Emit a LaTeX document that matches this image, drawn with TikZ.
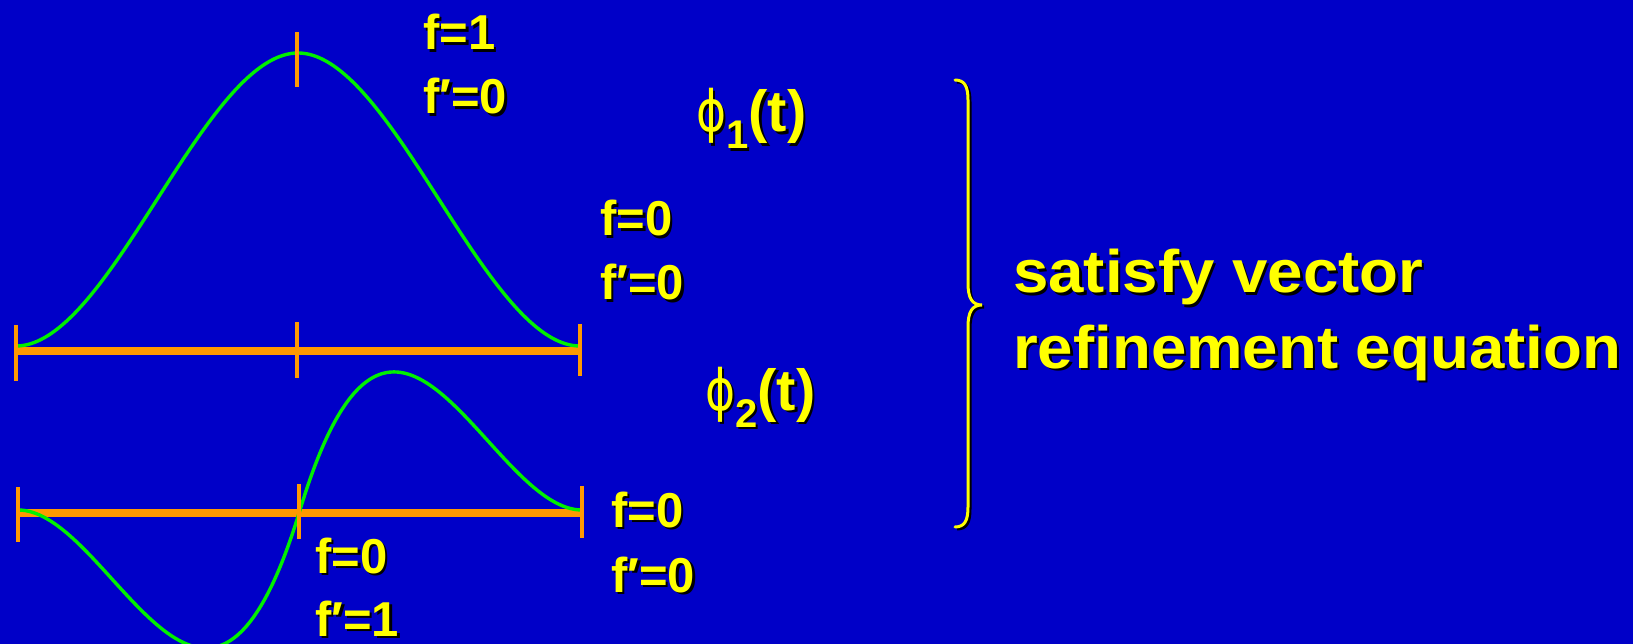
\documentclass[tikz,border=0pt]{standalone}
\usepackage{fontspec}
\setmainfont{Liberation Sans}
\newfontfamily\phifont{DejaVu Sans}[FakeStretch=0.8]
\newfontfamily\bigfont{Liberation Sans}[FakeStretch=1.06]
\definecolor{bgblue}{HTML}{0000C8}
\definecolor{axisorange}{HTML}{FF9900}
\definecolor{curvegreen}{HTML}{00F000}
\definecolor{txtyellow}{HTML}{FFFF00}
\newcommand\shd[1]{\leavevmode\rlap{\kern2.5pt\raisebox{-2.5pt}{\color{black}#1}}#1}
\newcommand\phisub[1]{{\phifont\mdseries\fontsize{57}{60}\selectfont ϕ}\raisebox{-17pt}{\fontsize{40}{40}\selectfont #1}(t)}
\tikzset{
  lbl/.style={text=txtyellow, inner sep=0pt, anchor=base west, font=\bfseries\fontsize{49}{58}\selectfont},
  philbl/.style={text=txtyellow, inner sep=0pt, anchor=base west, font=\bfseries\fontsize{58}{62}\selectfont},
  bigtxt/.style={text=txtyellow, inner sep=0pt, anchor=base west, font=\bigfont\bfseries\fontsize{60}{75}\selectfont},
  axisbar/.style={draw=axisorange, line width=8pt},
  tickmark/.style={draw=axisorange, line width=4pt},
  curve/.style={draw=curvegreen, line width=3.4pt},
  bracesty/.style={draw=txtyellow, line width=3pt, line cap=round,
    preaction={draw=black, line width=3pt, transform canvas={shift={(2pt,-2pt)}}}}
}
\begin{document}
\begin{tikzpicture}[x=1pt, y=-1pt]
\fill[bgblue] (0,0) rectangle (1633,644);
\useasboundingbox (0,0) rectangle (1633,644);
\clip (0,0) rectangle (1633,644);

% top axis
\coordinate (a1l) at (15,350.5);
\coordinate (a1r) at (581,350.5);
\draw[axisbar] (a1l) -- (a1r);
% bottom axis
\coordinate (a2l) at (17,513);
\coordinate (a2r) at (583,513);
\draw[axisbar] (a2l) -- (a2r);

% curves
\draw[curve] plot[domain=-1:1, samples=241, smooth]
  ({298+282*\x},{346-293*(1-3*\x*\x+2*abs(\x)*\x*\x)});
\draw[curve] plot[domain=-1:1, samples=241, smooth]
  ({300+282*\x},{510-932*\x*(1-abs(\x))*(1-abs(\x))});

% ticks
\draw[tickmark] (16,325) -- (16,381);
\draw[tickmark] (297,322) -- (297,378);
\draw[tickmark] (580,324) -- (580,376);
\draw[tickmark] (297,32) -- (297,87);
\draw[tickmark] (18,487) -- (18,542);
\draw[tickmark] (299,484) -- (299,539);
\draw[tickmark] (582,486) -- (582,538);

% labels
\node[lbl] (t1) at (423,50) {\shd{f=1}};
\node[lbl] (t2) at (423,114) {\shd{f′=0}};
\node[lbl] (t3) at (600,236) {\shd{f=0}};
\node[lbl] (t4) at (600,300) {\shd{f′=0}};
\node[lbl] (t5) at (611,527) {\shd{f=0}};
\node[lbl] (t6) at (611,592) {\shd{f′=0}};
\node[lbl] (t7) at (315,573) {\shd{f=0}};
\node[lbl] (t8) at (315,636) {\shd{f′=1}};

\node[philbl] (p1) at (696,132) {\shd{\phisub{1}}};
\node[philbl] (p2) at (705,410) {\shd{\phisub{2}}};

% brace
\draw[bracesty] (955,80) .. controls (965,80) and (968,87) .. (968,100)
  -- (968,283) .. controls (968,298) and (972,305) .. (982,305)
  .. controls (972,305) and (968,312) .. (968,327)
  -- (968,507) .. controls (968,520) and (965,527) .. (955,527);

\node[bigtxt] (s1) at (1013,293) {\shd{satisfy vector}};
\node[bigtxt] (s2) at (1013,368) {\shd{refinement equation}};
\end{tikzpicture}
\end{document}
